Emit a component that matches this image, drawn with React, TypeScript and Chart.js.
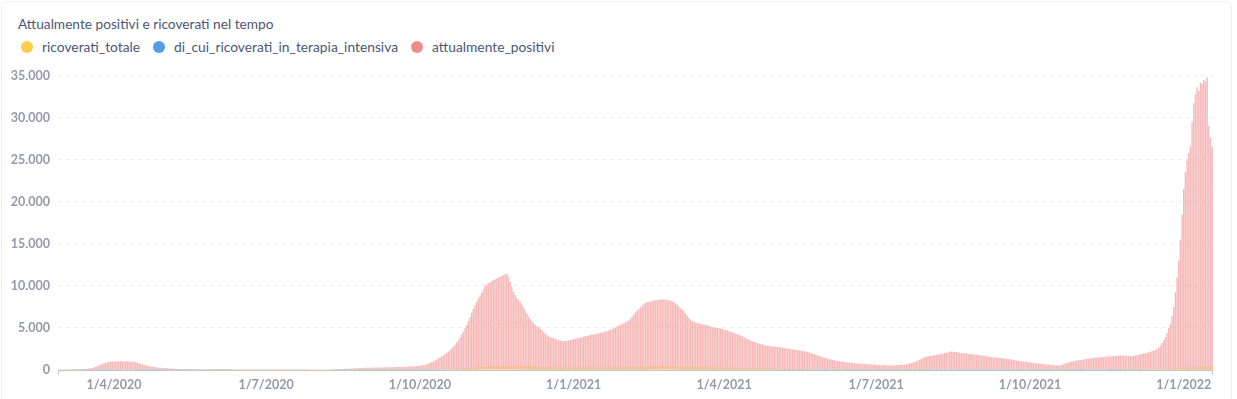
import React, { useEffect, useRef } from "react";
import { Chart, registerables } from "chart.js";

Chart.register(...registerables);

// ---- Series: attualmente_positivi (daily, from 28/2/2020) ----
const pos2020Feb = [5, 8];
const pos2020Mar = [10, 15, 20, 25, 30, 40, 50, 60, 70, 80, 90, 100, 110, 120, 130, 150, 170, 200, 240, 300, 380, 470, 560, 650, 730, 800, 860, 910, 950, 980, 1000];
const pos2020Apr = [1010, 1020, 1030, 1030, 1040, 1040, 1030, 1030, 1020, 1010, 1000, 980, 950, 910, 860, 800, 740, 680, 620, 560, 510, 460, 420, 380, 350, 320, 300, 280, 260, 245];
const pos2020May = [230, 215, 200, 190, 180, 170, 160, 150, 140, 130, 120, 110, 100, 95, 90, 85, 80, 75, 70, 68, 65, 62, 60, 58, 55, 52, 50, 48, 46, 44, 42];
const pos2020Jun = [40, 39, 38, 37, 36, 35, 34, 33, 32, 31, 30, 30, 29, 29, 28, 28, 27, 27, 26, 26, 25, 25, 25, 24, 24, 24, 23, 23, 23, 22];
const pos2020Jul = [22, 22, 21, 21, 21, 20, 20, 20, 21, 21, 22, 22, 23, 24, 25, 26, 27, 28, 30, 32, 34, 36, 38, 40, 42, 44, 46, 48, 50, 52, 54];
const pos2020Aug = [56, 58, 60, 62, 65, 68, 72, 76, 80, 85, 90, 95, 100, 110, 120, 130, 140, 150, 160, 170, 180, 190, 200, 210, 220, 230, 240, 250, 255, 260, 265];
const pos2020Sep = [270, 275, 280, 285, 290, 295, 300, 305, 310, 315, 320, 325, 330, 335, 340, 345, 350, 355, 360, 370, 380, 390, 400, 410, 420, 430, 440, 450, 460, 480];
const pos2020Oct = [500, 540, 580, 630, 690, 760, 840, 930, 1020, 1120, 1230, 1350, 1480, 1600, 1730, 1870, 2020, 2180, 2350, 2540, 2750, 2980, 3240, 3520, 3850, 4200, 4560, 4940, 5350, 5800, 6280];
const pos2020Nov = [6800, 7250, 7700, 8100, 8500, 8850, 9200, 9600, 9950, 10150, 10300, 10450, 10550, 10700, 10800, 10900, 11000, 11100, 11150, 11300, 11350, 11450, 11050, 10500, 9900, 9300, 8900, 8600, 8350, 8100];
const pos2020Dec = [7800, 7450, 7100, 6700, 6350, 6050, 5800, 5550, 5350, 5200, 5050, 4900, 4750, 4550, 4350, 4150, 4000, 3900, 3820, 3760, 3700, 3620, 3560, 3500, 3440, 3420, 3450, 3480, 3520, 3560, 3620];
const pos2021Jan = [3680, 3720, 3760, 3800, 3850, 3900, 3950, 4000, 4050, 4100, 4150, 4200, 4240, 4290, 4340, 4380, 4420, 4460, 4520, 4580, 4640, 4700, 4780, 4860, 4950, 5050, 5200, 5300, 5400, 5480, 5560];
const pos2021Feb = [5650, 5750, 5900, 6100, 6350, 6600, 6850, 7050, 7250, 7450, 7650, 7800, 7950, 8050, 8100, 8150, 8200, 8250, 8300, 8320, 8350, 8380, 8400, 8380, 8360, 8330, 8280, 8230];
const pos2021Mar = [8150, 8050, 7900, 7750, 7550, 7350, 7150, 6950, 6700, 6450, 6200, 5950, 5800, 5720, 5650, 5600, 5550, 5500, 5450, 5400, 5350, 5300, 5250, 5150, 5100, 5050, 5000, 4980, 4950, 4920, 4880];
const pos2021Apr = [4820, 4750, 4680, 4600, 4530, 4460, 4400, 4330, 4260, 4180, 4100, 4000, 3880, 3780, 3680, 3600, 3500, 3420, 3340, 3270, 3200, 3150, 3080, 3020, 2960, 2920, 2890, 2860, 2830, 2800];
const pos2021May = [2780, 2750, 2720, 2690, 2660, 2630, 2600, 2570, 2540, 2500, 2470, 2440, 2410, 2380, 2350, 2320, 2290, 2260, 2240, 2200, 2140, 2080, 2010, 1940, 1870, 1800, 1730, 1660, 1590, 1520, 1460];
const pos2021Jun = [1400, 1340, 1290, 1240, 1190, 1150, 1110, 1070, 1030, 1000, 970, 940, 910, 890, 870, 850, 830, 810, 800, 780, 760, 745, 730, 715, 700, 690, 675, 660, 650, 640];
const pos2021Jul = [620, 600, 585, 570, 560, 555, 550, 545, 540, 540, 545, 550, 560, 575, 590, 610, 630, 655, 690, 730, 780, 830, 890, 950, 1030, 1120, 1220, 1320, 1420, 1510, 1580];
const pos2021Aug = [1620, 1650, 1680, 1710, 1740, 1780, 1830, 1880, 1930, 1970, 2010, 2060, 2110, 2160, 2200, 2180, 2150, 2120, 2090, 2060, 2030, 2000, 1980, 1950, 1930, 1910, 1890, 1860, 1830, 1800, 1780];
const pos2021Sep = [1750, 1720, 1690, 1660, 1630, 1600, 1570, 1540, 1520, 1500, 1480, 1460, 1440, 1420, 1400, 1380, 1350, 1320, 1290, 1250, 1210, 1170, 1130, 1100, 1070, 1040, 1010, 980, 950, 920];
const pos2021Oct = [890, 860, 830, 800, 780, 760, 740, 720, 700, 680, 660, 640, 620, 600, 580, 560, 540, 520, 560, 620, 690, 760, 830, 900, 960, 1010, 1050, 1090, 1120, 1150, 1180];
const pos2021Nov = [1210, 1240, 1270, 1300, 1330, 1360, 1390, 1420, 1450, 1470, 1490, 1510, 1530, 1550, 1570, 1590, 1610, 1620, 1640, 1650, 1670, 1680, 1700, 1710, 1730, 1720, 1700, 1680, 1660, 1640];
const pos2021Dec = [1620, 1660, 1710, 1760, 1810, 1860, 1910, 1950, 2000, 2060, 2120, 2180, 2240, 2300, 2380, 2500, 2680, 2900, 3200, 3550, 3900, 4400, 4950, 5500, 6400, 7500, 9200, 11000, 13000, 15500, 18500];
const pos2022Jan = [21500, 23500, 24900, 25800, 26600, 29500, 31700, 32800, 33600, 33200, 34100, 34000, 34500, 34300, 34800, 29000, 27600, 26500];

// ---- Series: ricoverati_totale ----
const ric2020Feb = [0, 0];
const ric2020Mar = [0, 0, 1, 1, 2, 2, 3, 4, 5, 6, 8, 10, 12, 15, 18, 22, 26, 30, 35, 40, 45, 50, 55, 60, 65, 70, 75, 80, 85, 90, 95];
const ric2020Apr = [100, 105, 110, 112, 115, 118, 120, 120, 120, 118, 115, 112, 110, 105, 100, 95, 90, 85, 80, 75, 70, 65, 60, 56, 52, 48, 45, 42, 40, 38];
const ric2020May = [36, 34, 32, 30, 28, 26, 24, 22, 20, 19, 18, 17, 16, 15, 14, 13, 12, 11, 10, 10, 9, 9, 8, 8, 7, 7, 6, 6, 5, 5, 5];
const ric2020Jun = [5, 5, 4, 4, 4, 4, 3, 3, 3, 3, 3, 3, 3, 2, 2, 2, 2, 2, 2, 2, 2, 2, 2, 2, 2, 2, 2, 2, 2, 2];
const ric2020Jul = [2, 2, 2, 2, 2, 2, 2, 2, 2, 2, 2, 2, 2, 2, 2, 2, 2, 3, 3, 3, 3, 3, 3, 3, 3, 3, 3, 3, 3, 4, 4];
const ric2020Aug = [4, 4, 4, 5, 5, 5, 5, 6, 6, 6, 7, 7, 7, 8, 8, 8, 9, 9, 10, 10, 11, 11, 12, 12, 13, 14, 14, 15, 16, 16, 17];
const ric2020Sep = [18, 18, 19, 20, 20, 21, 22, 22, 23, 24, 25, 25, 26, 27, 28, 29, 30, 31, 32, 33, 34, 35, 36, 37, 38, 40, 42, 44, 46, 48];
const ric2020Oct = [50, 53, 56, 60, 64, 68, 72, 76, 80, 85, 90, 95, 100, 106, 112, 118, 125, 132, 140, 148, 156, 165, 174, 184, 194, 205, 216, 228, 240, 252, 265];
const ric2020Nov = [278, 290, 302, 314, 326, 338, 350, 360, 370, 380, 390, 398, 406, 414, 420, 426, 432, 436, 440, 444, 446, 448, 450, 450, 448, 446, 442, 438, 434, 430];
const ric2020Dec = [425, 420, 414, 408, 402, 396, 390, 384, 378, 372, 366, 360, 354, 348, 342, 336, 330, 324, 318, 314, 310, 306, 302, 298, 295, 292, 290, 288, 286, 285, 284];
const ric2021Jan = [284, 284, 285, 286, 287, 288, 290, 292, 294, 296, 298, 300, 302, 304, 306, 308, 310, 312, 314, 316, 318, 320, 322, 324, 326, 328, 330, 332, 334, 336, 338];
const ric2021Feb = [340, 343, 346, 350, 354, 358, 362, 366, 370, 374, 378, 382, 386, 390, 394, 398, 402, 406, 410, 412, 414, 416, 418, 420, 420, 420, 418, 416];
const ric2021Mar = [414, 412, 408, 404, 400, 396, 392, 388, 384, 380, 376, 372, 368, 364, 360, 356, 352, 348, 344, 340, 336, 332, 328, 324, 320, 316, 312, 308, 304, 300, 296];
const ric2021Apr = [292, 288, 284, 280, 276, 272, 268, 264, 260, 256, 252, 248, 244, 240, 236, 232, 228, 224, 220, 216, 212, 208, 204, 200, 196, 192, 188, 184, 180, 176];
const ric2021May = [172, 168, 164, 160, 156, 152, 148, 144, 140, 136, 132, 128, 124, 120, 116, 112, 108, 104, 100, 96, 92, 88, 84, 80, 76, 72, 68, 64, 60, 57, 54];
const ric2021Jun = [51, 48, 45, 42, 40, 38, 36, 34, 32, 30, 28, 27, 26, 25, 24, 23, 22, 21, 20, 19, 18, 18, 17, 17, 16, 16, 15, 15, 15, 14];
const ric2021Jul = [14, 14, 14, 14, 14, 14, 14, 14, 14, 14, 15, 15, 15, 16, 16, 17, 18, 19, 20, 21, 22, 23, 24, 25, 27, 29, 31, 33, 35, 37, 39];
const ric2021Aug = [41, 43, 45, 47, 49, 51, 53, 55, 57, 59, 61, 63, 65, 66, 67, 68, 69, 70, 70, 70, 70, 69, 68, 67, 66, 65, 64, 63, 62, 61, 60];
const ric2021Sep = [59, 58, 57, 56, 55, 54, 53, 52, 51, 50, 49, 48, 47, 46, 45, 44, 43, 42, 41, 40, 39, 38, 37, 36, 35, 34, 33, 32, 31, 30];
const ric2021Oct = [30, 29, 29, 28, 28, 27, 27, 26, 26, 25, 25, 25, 25, 25, 26, 26, 27, 28, 29, 30, 31, 32, 33, 34, 35, 36, 37, 38, 39, 40, 42];
const ric2021Nov = [44, 46, 48, 50, 52, 54, 56, 58, 60, 62, 64, 66, 68, 70, 72, 74, 76, 78, 80, 82, 84, 86, 88, 90, 92, 94, 96, 98, 100, 102];
const ric2021Dec = [104, 106, 108, 110, 112, 114, 116, 118, 120, 122, 124, 126, 128, 130, 133, 136, 139, 142, 146, 150, 155, 160, 166, 172, 180, 188, 196, 205, 215, 225, 236];
const ric2022Jan = [248, 260, 272, 284, 296, 308, 320, 330, 340, 350, 358, 366, 372, 378, 382, 386, 388, 390];

// ---- Series: di_cui_ricoverati_in_terapia_intensiva ----
const ti2020Feb = [0, 0];
const ti2020Mar = [0, 0, 0, 0, 0, 0, 1, 1, 1, 1, 1, 2, 2, 2, 3, 3, 4, 4, 5, 5, 6, 7, 8, 9, 10, 11, 12, 13, 14, 15, 16];
const ti2020Apr = [17, 18, 18, 19, 19, 19, 19, 18, 18, 17, 17, 16, 15, 14, 13, 12, 11, 10, 9, 8, 8, 7, 7, 6, 6, 5, 5, 5, 4, 4];
const ti2020May = [4, 4, 3, 3, 3, 3, 3, 2, 2, 2, 2, 2, 2, 2, 1, 1, 1, 1, 1, 1, 1, 1, 1, 1, 1, 1, 1, 1, 1, 1, 1];
const ti2020Jun = [1, 1, 1, 1, 1, 1, 1, 1, 1, 1, 0, 0, 0, 0, 0, 0, 0, 0, 0, 0, 0, 0, 0, 0, 0, 0, 0, 0, 0, 0];
const ti2020Jul = [0, 0, 0, 0, 0, 0, 0, 0, 0, 0, 0, 0, 0, 0, 0, 0, 0, 0, 0, 0, 0, 0, 0, 0, 0, 0, 0, 0, 0, 0, 0];
const ti2020Aug = [0, 0, 0, 0, 0, 0, 0, 0, 0, 0, 1, 1, 1, 1, 1, 1, 1, 1, 1, 1, 1, 1, 1, 1, 1, 1, 2, 2, 2, 2, 2];
const ti2020Sep = [2, 2, 2, 2, 2, 2, 3, 3, 3, 3, 3, 3, 3, 4, 4, 4, 4, 4, 4, 5, 5, 5, 5, 5, 6, 6, 6, 6, 7, 7];
const ti2020Oct = [7, 8, 8, 9, 9, 10, 10, 11, 11, 12, 13, 14, 15, 16, 17, 18, 19, 20, 21, 22, 23, 24, 25, 27, 28, 30, 31, 33, 34, 36, 38];
const ti2020Nov = [40, 41, 43, 44, 46, 47, 48, 49, 50, 51, 52, 53, 53, 54, 54, 55, 55, 55, 55, 54, 54, 53, 53, 52, 51, 50, 50, 49, 48, 47];
const ti2020Dec = [46, 45, 45, 44, 43, 42, 41, 41, 40, 39, 38, 38, 37, 36, 36, 35, 34, 34, 33, 33, 32, 32, 31, 31, 31, 30, 30, 30, 30, 30, 30];
const ti2021Jan = [30, 30, 30, 31, 31, 31, 31, 32, 32, 32, 32, 33, 33, 33, 33, 34, 34, 34, 34, 35, 35, 35, 35, 36, 36, 36, 36, 37, 37, 37, 38];
const ti2021Feb = [38, 38, 39, 39, 40, 40, 41, 41, 42, 42, 43, 43, 44, 44, 45, 45, 46, 46, 46, 47, 47, 47, 47, 47, 47, 47, 46, 46];
const ti2021Mar = [46, 46, 45, 45, 44, 44, 43, 43, 42, 42, 41, 41, 40, 40, 39, 39, 38, 38, 37, 37, 36, 36, 35, 35, 34, 34, 33, 33, 32, 32, 31];
const ti2021Apr = [31, 30, 30, 29, 29, 28, 28, 27, 27, 26, 26, 25, 25, 24, 24, 23, 23, 22, 22, 21, 21, 20, 20, 19, 19, 18, 18, 17, 17, 16];
const ti2021May = [16, 15, 15, 14, 14, 13, 13, 12, 12, 11, 11, 10, 10, 10, 9, 9, 9, 8, 8, 8, 7, 7, 7, 6, 6, 6, 5, 5, 5, 5, 4];
const ti2021Jun = [4, 4, 4, 4, 4, 3, 3, 3, 3, 3, 3, 3, 3, 2, 2, 2, 2, 2, 2, 2, 2, 2, 2, 2, 2, 2, 2, 2, 2, 2];
const ti2021Jul = [2, 2, 2, 2, 2, 2, 2, 2, 2, 2, 2, 2, 2, 2, 2, 2, 2, 2, 2, 2, 2, 3, 3, 3, 3, 3, 3, 3, 4, 4, 4];
const ti2021Aug = [4, 4, 5, 5, 5, 5, 6, 6, 6, 6, 7, 7, 7, 7, 7, 8, 8, 8, 8, 8, 8, 8, 8, 8, 8, 7, 7, 7, 7, 7, 7];
const ti2021Sep = [7, 7, 7, 6, 6, 6, 6, 6, 6, 6, 5, 5, 5, 5, 5, 5, 5, 5, 4, 4, 4, 4, 4, 4, 4, 4, 4, 3, 3, 3];
const ti2021Oct = [3, 3, 3, 3, 3, 3, 3, 3, 3, 3, 3, 3, 3, 3, 3, 3, 3, 3, 3, 3, 3, 3, 4, 4, 4, 4, 4, 4, 4, 4, 5];
const ti2021Nov = [5, 5, 5, 5, 6, 6, 6, 6, 7, 7, 7, 7, 8, 8, 8, 8, 9, 9, 9, 9, 10, 10, 10, 10, 11, 11, 11, 12, 12, 12];
const ti2021Dec = [12, 13, 13, 13, 14, 14, 14, 15, 15, 15, 16, 16, 16, 17, 17, 17, 18, 18, 19, 19, 20, 20, 21, 21, 22, 22, 23, 24, 25, 26, 27];
const ti2022Jan = [28, 29, 30, 31, 32, 33, 34, 35, 36, 37, 38, 38, 39, 39, 40, 40, 40, 40];

const attualmentePositivi = [
  ...pos2020Feb, ...pos2020Mar, ...pos2020Apr, ...pos2020May, ...pos2020Jun, ...pos2020Jul,
  ...pos2020Aug, ...pos2020Sep, ...pos2020Oct, ...pos2020Nov, ...pos2020Dec,
  ...pos2021Jan, ...pos2021Feb, ...pos2021Mar, ...pos2021Apr, ...pos2021May, ...pos2021Jun,
  ...pos2021Jul, ...pos2021Aug, ...pos2021Sep, ...pos2021Oct, ...pos2021Nov, ...pos2021Dec,
  ...pos2022Jan,
];
const ricoveratiTotale = [
  ...ric2020Feb, ...ric2020Mar, ...ric2020Apr, ...ric2020May, ...ric2020Jun, ...ric2020Jul,
  ...ric2020Aug, ...ric2020Sep, ...ric2020Oct, ...ric2020Nov, ...ric2020Dec,
  ...ric2021Jan, ...ric2021Feb, ...ric2021Mar, ...ric2021Apr, ...ric2021May, ...ric2021Jun,
  ...ric2021Jul, ...ric2021Aug, ...ric2021Sep, ...ric2021Oct, ...ric2021Nov, ...ric2021Dec,
  ...ric2022Jan,
];
const terapiaIntensiva = [
  ...ti2020Feb, ...ti2020Mar, ...ti2020Apr, ...ti2020May, ...ti2020Jun, ...ti2020Jul,
  ...ti2020Aug, ...ti2020Sep, ...ti2020Oct, ...ti2020Nov, ...ti2020Dec,
  ...ti2021Jan, ...ti2021Feb, ...ti2021Mar, ...ti2021Apr, ...ti2021May, ...ti2021Jun,
  ...ti2021Jul, ...ti2021Aug, ...ti2021Sep, ...ti2021Oct, ...ti2021Nov, ...ti2021Dec,
  ...ti2022Jan,
];

// ---- Categories: one per day starting 28/2/2020 ----
const START_UTC = Date.UTC(2020, 1, 28);
const dates = attualmentePositivi.map((_, i) => new Date(START_UTC + i * 86400000));
const categories = dates.map((d) => `${d.getUTCDate()}/${d.getUTCMonth() + 1}/${d.getUTCFullYear()}`);
const tickMonths = [1, 4, 7, 10];

const seriesNames = ["ricoverati_totale", "di_cui_ricoverati_in_terapia_intensiva", "attualmente_positivi"];
const seriesColors = ["#F9CF48", "#509EE3", "#EF8C8C"];

const formatIt = (v: number) => String(v).replace(/\B(?=(\d{3})+(?!\d))/g, ".");

const TEXT = "#4C5773";
const AXIS_TEXT = "#949AAB";

const axisEnds = {
  id: "axisEnds",
  afterDatasetsDraw(chart: any) {
    const { ctx, chartArea } = chart;
    ctx.save();
    ctx.strokeStyle = "#C3C5CC";
    ctx.lineWidth = 1;
    ctx.beginPath();
    ctx.moveTo(chartArea.left, chartArea.bottom + 0.5);
    ctx.lineTo(chartArea.right, chartArea.bottom + 0.5);
    ctx.moveTo(chartArea.left + 0.5, chartArea.bottom);
    ctx.lineTo(chartArea.left + 0.5, chartArea.bottom + 5);
    ctx.moveTo(chartArea.right - 0.5, chartArea.bottom);
    ctx.lineTo(chartArea.right - 0.5, chartArea.bottom + 5);
    ctx.stroke();
    ctx.restore();
  },
};

export default function App() {
  const canvasRef = useRef<HTMLCanvasElement | null>(null);

  useEffect(() => {
    document.body.style.margin = "0";
    const canvas = canvasRef.current;
    if (!canvas) return;
    Chart.defaults.font.family = "Lato, 'Noto Sans', sans-serif";
    const chart = new Chart(canvas, {
      type: "bar",
      data: {
        labels: categories,
        datasets: [
          { label: seriesNames[0], data: ricoveratiTotale, backgroundColor: "rgba(249,190,72,0.55)" },
          { label: seriesNames[1], data: terapiaIntensiva, backgroundColor: "rgba(80,158,227,0.6)" },
          { label: seriesNames[2], data: attualmentePositivi, backgroundColor: "rgba(239,140,140,0.62)" },
        ],
      },
      options: {
        animation: false,
        responsive: false,
        maintainAspectRatio: false,
        datasets: { bar: { grouped: false, categoryPercentage: 1, barPercentage: 0.85 } } as any,
        layout: { padding: { left: 0, right: 24, top: 15, bottom: 0 } },
        plugins: { legend: { display: false }, tooltip: { enabled: false }, title: { display: false } },
        scales: {
          x: {
            grid: { display: false, drawTicks: false },
            border: { display: false },
            ticks: {
              autoSkip: false,
              maxRotation: 0,
              minRotation: 0,
              padding: 7,
              color: AXIS_TEXT,
              font: { size: 12.5, weight: "bold" },
              callback: (_v: any, i: number) => {
                const d = dates[i];
                return d && d.getUTCDate() === 1 && tickMonths.includes(d.getUTCMonth() + 1) ? categories[i] : "";
              },
            },
            afterFit: (s: any) => {
              s.height = 29;
            },
          },
          y: {
            min: 0,
            max: 35000,
            grid: { color: "#EDEDF0", drawTicks: false },
            border: { display: false, dash: [4, 4] },
            ticks: {
              stepSize: 5000,
              padding: 8,
              color: AXIS_TEXT,
              font: { size: 12.5, weight: "bold" },
              callback: (v: any) => formatIt(Number(v)),
            },
            afterFit: (s: any) => {
              s.width = 58;
            },
          },
        },
      } as any,
      plugins: [axisEnds],
    });
    return () => chart.destroy();
  }, []);

  return (
    <div style={{ position: "relative", width: 1237, height: 399, background: "#fff", overflow: "hidden", fontFamily: "Lato, 'Noto Sans', sans-serif" }}>
      <div style={{ position: "absolute", left: 1, top: 1, width: 1231, height: 430, border: "1px solid #EEEEF0", borderRadius: 6, boxSizing: "border-box" }} />
      <div style={{ position: "absolute", left: 18, top: 16, fontSize: 13.7, lineHeight: "16px", color: TEXT, whiteSpace: "nowrap" }}>
        Attualmente positivi e ricoverati nel tempo
      </div>
      <div style={{ position: "absolute", left: 21, top: 39, display: "flex", alignItems: "center", fontSize: 13.8, lineHeight: "16px", color: TEXT, whiteSpace: "nowrap" }}>
        {seriesNames.map((n, i) => (
          <div key={n} style={{ display: "flex", alignItems: "center", marginRight: 13 }}>
            <span style={{ width: 12, height: 12, borderRadius: 6, background: seriesColors[i], display: "inline-block", marginRight: 9 }} />
            <span>{n}</span>
          </div>
        ))}
      </div>
      <canvas ref={canvasRef} width={1237} height={339} style={{ position: "absolute", left: 0, top: 60, display: "block" }} />
    </div>
  );
}
